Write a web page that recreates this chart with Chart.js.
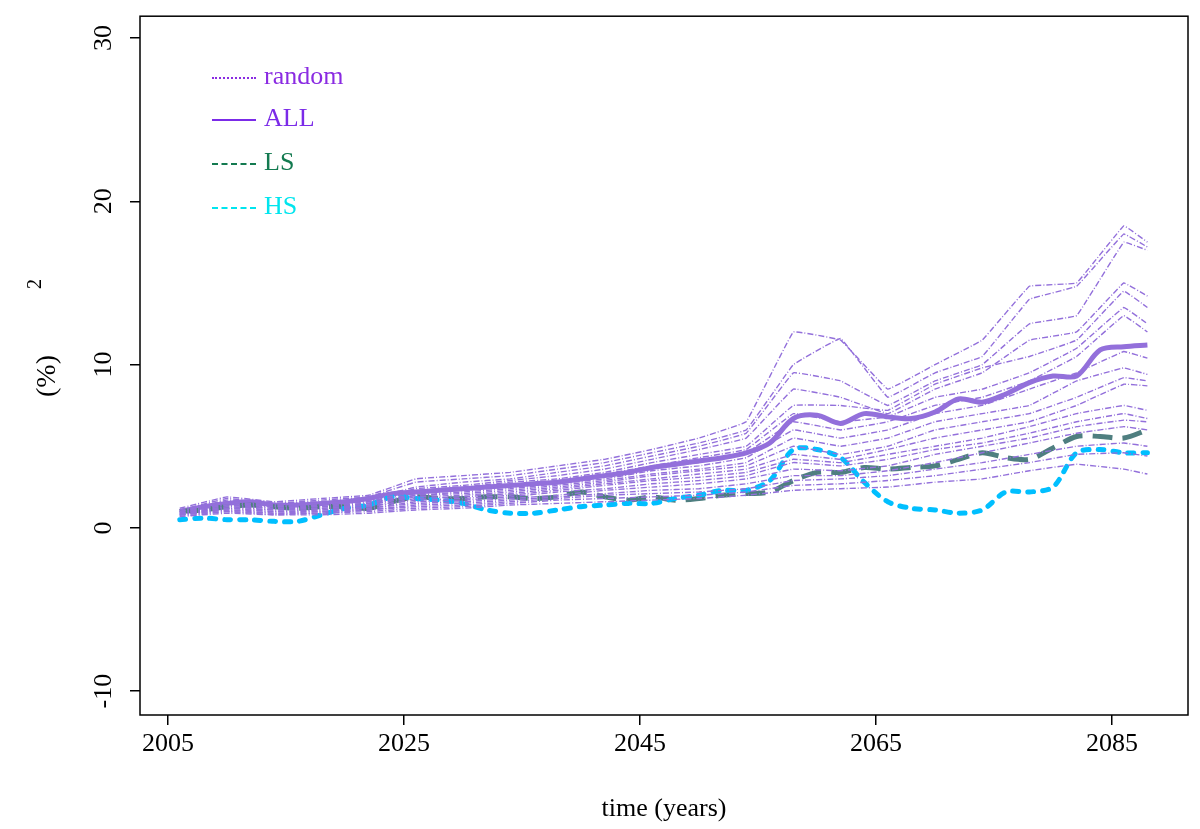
<!DOCTYPE html>
<html>
<head>
<meta charset="utf-8">
<script src="https://cdn.jsdelivr.net/npm/chart.js@4"></script>
<style>
  body { margin: 0; background: #fff; }
  #wrap { position: relative; width: 1200px; height: 829px; }
  .leg { position: absolute; left: 212px; font-family: "Liberation Serif", serif; font-size: 26px; }
  .leg span.ln { display: inline-block; width: 44px; vertical-align: middle; margin-right: 8px; }
</style>
</head>
<body>
<div id="wrap">
  <canvas id="myChart" width="1200" height="829"></canvas>
  <div class="leg" style="top:61px;color:#8a2be2"><span class="ln" style="border-top:2px dotted #8a2be2"></span>random</div>
  <div class="leg" style="top:103px;color:#7b2be8"><span class="ln" style="border-top:2px solid #7b2be8"></span>ALL</div>
  <div class="leg" style="top:147px;color:#137a50"><span class="ln" style="border-top:2px dashed #137a50"></span>LS</div>
  <div class="leg" style="top:191px;color:#00e5ee"><span class="ln" style="border-top:2px dashed #00e5ee"></span>HS</div>
</div>
<script>
var years2 = [];
for (var y = 2006; y <= 2088; y += 2) years2.push(y);
var years4 = [2006,2010,2014,2018,2022,2026,2030,2034,2038,2042,2046,2050,2054,2058,2062,2066,2070,2074,2078,2082,2086,2088];

var allValues = [1.0,1.3,1.5,1.6,1.4,1.4,1.5,1.6,1.8,2.1,2.2,2.3,2.4,2.5,2.6,2.7,2.8,3.0,3.2,3.4,3.7,3.9,4.1,4.3,4.6,5.2,6.7,6.9,6.4,7.0,6.8,6.7,7.1,7.9,7.7,8.2,8.9,9.3,9.3,10.9,11.1,11.2];
var lsValues = [1.0,1.1,1.3,1.4,1.3,1.2,1.3,1.3,1.2,1.6,1.9,1.8,1.8,1.9,1.9,1.8,1.9,2.2,1.9,1.7,1.9,1.7,1.8,2.0,2.1,2.2,2.9,3.4,3.4,3.7,3.6,3.7,3.8,4.2,4.6,4.3,4.2,4.9,5.6,5.6,5.5,6.0];
var hsValues = [0.5,0.6,0.5,0.5,0.4,0.4,0.8,1.2,1.4,1.9,1.8,1.7,1.5,1.1,0.9,0.9,1.1,1.3,1.4,1.5,1.5,1.8,2.0,2.3,2.3,2.9,4.8,4.8,4.3,2.8,1.6,1.2,1.1,0.9,1.1,2.2,2.2,2.5,4.6,4.8,4.6,4.6];

var randomRuns = [
  [1.2,1.9,1.6,1.8,2.0,3.0,3.2,3.4,3.8,4.2,4.8,5.5,6.5,12.0,11.5,8.5,10.0,11.5,14.8,15.0,18.5,17.5],
  [1.1,1.8,1.5,1.7,1.9,2.8,3.0,3.2,3.6,4.0,4.6,5.2,6.0,10.0,11.6,8.0,9.5,10.5,14.0,14.8,18.0,17.2],
  [1.0,1.7,1.5,1.6,1.8,2.5,2.8,3.0,3.4,3.8,4.4,5.0,5.8,9.5,9.0,7.5,9.0,10.0,12.5,13.0,17.5,17.0],
  [1.0,1.6,1.4,1.5,1.7,2.4,2.6,2.9,3.2,3.6,4.2,4.8,5.5,8.5,8.0,7.0,8.5,9.5,11.5,12.0,15.0,14.2],
  [1.1,1.6,1.4,1.5,1.6,2.3,2.5,2.8,3.0,3.4,4.0,4.5,5.0,7.5,7.5,7.2,8.8,9.8,10.5,11.5,14.5,13.5],
  [0.9,1.5,1.3,1.4,1.6,2.2,2.4,2.6,2.9,3.3,3.8,4.3,4.8,7.0,6.5,6.8,8.0,8.5,9.5,11.0,13.5,12.5],
  [1.0,1.5,1.4,1.4,1.5,2.1,2.3,2.5,2.8,3.2,3.6,4.0,4.6,6.5,6.0,6.5,7.5,8.0,9.0,10.5,13.0,12.0],
  [0.9,1.4,1.3,1.3,1.5,2.0,2.2,2.4,2.7,3.0,3.5,3.8,4.3,6.0,5.5,6.0,7.0,7.5,8.5,9.5,10.8,10.4],
  [1.0,1.4,1.2,1.3,1.4,2.0,2.1,2.3,2.6,2.9,3.3,3.6,4.0,5.5,5.0,5.5,6.5,7.0,7.5,9.0,9.8,9.4],
  [0.9,1.3,1.2,1.2,1.4,1.9,2.0,2.2,2.5,2.8,3.2,3.5,3.8,5.0,4.5,5.0,6.0,6.5,7.0,8.0,9.2,9.0],
  [0.8,1.3,1.1,1.2,1.3,1.8,1.9,2.1,2.4,2.7,3.0,3.3,3.6,4.5,4.2,4.8,5.5,6.0,6.5,7.5,8.8,8.7],
  [0.9,1.2,1.1,1.1,1.3,1.7,1.8,2.0,2.3,2.6,2.9,3.1,3.4,4.2,4.0,4.5,5.0,5.5,6.2,7.0,7.5,7.2],
  [0.8,1.2,1.0,1.1,1.2,1.6,1.7,1.9,2.2,2.4,2.7,2.9,3.2,4.0,3.8,4.2,4.8,5.2,5.8,6.5,7.0,6.7],
  [0.8,1.1,1.0,1.0,1.2,1.5,1.6,1.8,2.0,2.3,2.5,2.7,3.0,3.6,3.5,3.8,4.5,5.0,5.5,6.2,6.6,6.5],
  [0.8,1.1,0.9,1.0,1.1,1.4,1.5,1.7,1.9,2.1,2.3,2.4,2.7,3.2,3.2,3.5,4.0,4.6,5.2,5.8,6.2,6.0],
  [0.8,1.0,0.9,0.9,1.1,1.3,1.4,1.6,1.8,2.0,2.1,2.2,2.4,2.9,3.0,3.2,3.6,4.0,4.5,5.0,5.2,5.0],
  [0.7,1.0,0.8,0.9,1.0,1.2,1.3,1.5,1.7,1.8,1.9,2.0,2.2,2.6,2.7,2.9,3.2,3.6,4.0,4.5,4.6,4.4],
  [0.7,0.9,0.8,0.8,0.9,1.1,1.2,1.4,1.5,1.6,1.7,1.8,2.0,2.3,2.4,2.5,2.8,3.0,3.5,3.9,3.6,3.3]
];

var xTicks = [2005, 2025, 2045, 2065, 2085];
var yTicks = [-10, 0, 10, 20, 30];

function pts(xs, vs) {
  return vs.map(function(v, i) { return { x: xs[i], y: v }; });
}

var datasets = [];
for (var i = 0; i < randomRuns.length; i++) {
  datasets.push({
    data: pts(years4, randomRuns[i]),
    borderColor: '#9370db',
    borderWidth: 1.4,
    borderDash: [6, 2, 1, 2],
    tension: 0.05
  });
}
datasets.push({ data: pts(years2, hsValues), borderColor: '#00bfff', borderWidth: 5, borderDash: [6, 9], borderCapStyle: 'round', tension: 0.3 });
datasets.push({ data: pts(years2, lsValues), borderColor: '#4f7f80', borderWidth: 5, borderDash: [20, 10], tension: 0.3 });
datasets.push({ data: pts(years2, allValues), borderColor: '#9370db', borderWidth: 5, tension: 0.3 });

var serif = '"Liberation Serif", serif';

var boxPlugin = {
  id: 'box',
  afterDraw: function(chart) {
    var c = chart.ctx, a = chart.chartArea, ys = chart.scales.y;
    c.save();
    c.strokeStyle = '#000';
    c.lineWidth = 1.5;
    c.strokeRect(a.left, a.top, a.right - a.left, a.bottom - a.top);
    // y tick labels, vertical like R
    c.fillStyle = '#000';
    c.font = '26px ' + serif;
    c.textAlign = 'center';
    c.textBaseline = 'middle';
    yTicks.forEach(function(t) {
      c.save();
      c.translate(104, ys.getPixelForValue(t));
      c.rotate(-Math.PI / 2);
      c.fillText(String(t), 0, 0);
      c.restore();
    });
    // y title
    c.save();
    c.translate(48, 368);
    c.rotate(-Math.PI / 2);
    c.font = '28px ' + serif;
    c.fillText('(%)', -8, 0);
    c.font = '20px ' + serif;
    c.fillText('2', 84, -12);
    c.restore();
    c.restore();
  }
};

var ctx = document.getElementById('myChart').getContext('2d');
var chart = new Chart(ctx, {
  type: 'line',
  data: { datasets: datasets },
  plugins: [boxPlugin],
  options: {
    responsive: false,
    animation: false,
    layout: { padding: { top: 12, right: 12, left: 0, bottom: 0 } },
    elements: { point: { radius: 0 } },
    plugins: { legend: { display: false }, tooltip: { enabled: false } },
    scales: {
      x: {
        type: 'linear',
        min: 2002.63,
        max: 2091.44,
        afterBuildTicks: function(s) { s.ticks = xTicks.map(function(v) { return { value: v }; }); },
        afterFit: function(s) { s.height = 114; },
        grid: { drawOnChartArea: false, tickLength: 10, color: '#000', lineWidth: 1.5 },
        border: { display: false },
        ticks: { color: '#000', font: { family: serif, size: 26 }, padding: 4, maxRotation: 0, callback: function(v) { return String(v); } },
        title: { display: true, text: 'time (years)', color: '#000', font: { family: serif, size: 26 }, padding: { top: 16 } }
      },
      y: {
        min: -11.46,
        max: 31.34,
        afterBuildTicks: function(s) { s.ticks = yTicks.map(function(v) { return { value: v }; }); },
        afterFit: function(s) { s.width = 140; },
        grid: { drawOnChartArea: false, tickLength: 10, color: '#000', lineWidth: 1.5 },
        border: { display: false },
        ticks: { display: true, color: 'rgba(0,0,0,0)', font: { family: serif, size: 22 } }
      }
    }
  }
});
</script>
</body>
</html>
